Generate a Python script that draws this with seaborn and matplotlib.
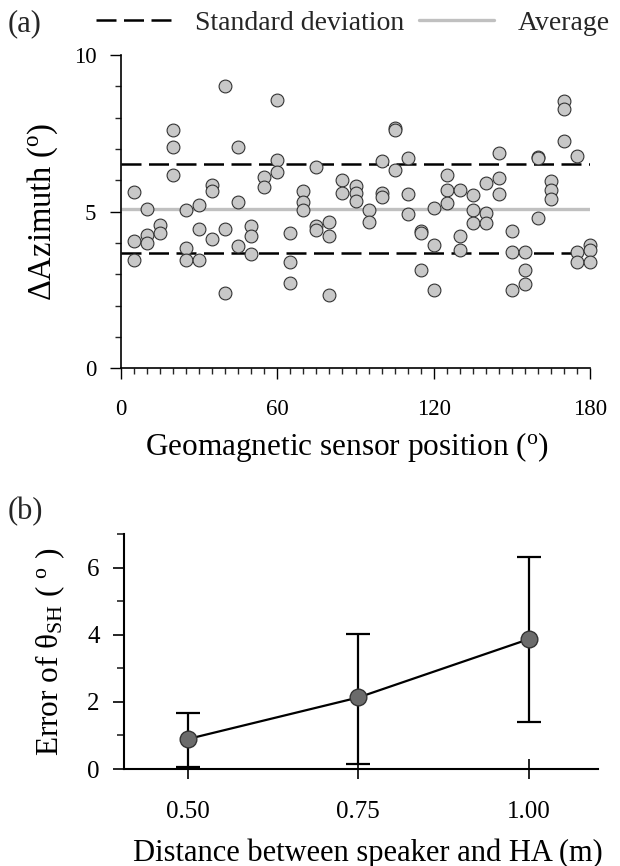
import numpy as np
import pandas as pd
import matplotlib
matplotlib.use("Agg")
import matplotlib.pyplot as plt
import seaborn as sns
from matplotlib.lines import Line2D
from matplotlib.ticker import MultipleLocator

sns.set_theme(style="ticks")
plt.rcParams['font.family'] = ['Liberation Serif', 'DejaVu Serif']
plt.rcParams['mathtext.fontset'] = 'custom'
plt.rcParams['mathtext.rm'] = 'Liberation Serif'
plt.rcParams['mathtext.it'] = 'Liberation Serif:italic'

# ---------- Panel (a) data ----------
sensor_pos = [5, 5, 5, 10, 10, 10, 15, 15, 20, 20, 20, 25, 25, 25, 30, 30, 30,
              35, 35, 35, 40, 40, 40, 45, 45, 45, 50, 50, 50, 55, 55, 60, 60, 60,
              65, 65, 65, 70, 70, 70, 75, 75, 75, 80, 80, 80, 85, 85, 90, 90, 90,
              95, 95, 100, 100, 100, 105, 105, 105, 110, 110, 110, 115, 115, 115,
              120, 120, 120, 125, 125, 125, 130, 130, 130, 135, 135, 135,
              140, 140, 140, 145, 145, 145, 150, 150, 150, 155, 155, 155,
              160, 160, 160, 165, 165, 165, 170, 170, 170, 175, 175, 175,
              180, 180, 180]
delta_azimuth = [5.64, 4.07, 3.46, 5.09, 4.26, 3.99, 4.58, 4.31, 7.61, 7.08, 6.18,
                 5.06, 3.85, 3.46, 5.22, 4.44, 3.46, 5.86, 5.66, 4.13, 9.02, 4.44, 2.40,
                 7.05, 5.30, 3.92, 4.56, 4.24, 3.64, 6.12, 5.78, 8.55, 6.65, 6.28,
                 4.31, 3.41, 2.74, 5.67, 5.32, 5.04, 6.44, 4.56, 4.42, 4.68, 4.23, 2.34,
                 6.02, 5.59, 5.82, 5.61, 5.35, 5.06, 4.68, 6.62, 5.61, 5.48,
                 7.67, 7.61, 6.34, 6.73, 5.57, 4.93, 4.37, 4.31, 3.14,
                 5.13, 3.94, 2.50, 6.18, 5.70, 5.27, 5.70, 4.24, 3.78, 5.54, 5.06, 4.63,
                 5.93, 4.95, 4.63, 6.87, 6.09, 5.56, 4.37, 3.71, 2.50, 3.71, 3.14, 2.71,
                 6.76, 6.71, 4.79, 5.99, 5.70, 5.40, 8.54, 8.27, 7.26, 6.78, 3.71, 3.39,
                 3.94, 3.78, 3.39]
avg_value = 5.09
std_upper = 6.52
std_lower = 3.67

# ---------- Panel (b) data ----------
distance = [0.50, 0.75, 1.00]
distance_labels = ["0.50", "0.75", "1.00"]
error_mean = [0.89, 2.13, 3.87]
error_upper = [1.68, 4.02, 6.30]
error_lower = [0.05, 0.15, 1.39]

df_a = pd.DataFrame({"pos": sensor_pos, "daz": delta_azimuth})
df_b = pd.DataFrame({"dist": distance, "err": error_mean})

fig = plt.figure(figsize=(6.2, 8.66), dpi=100)
ax1 = fig.add_axes([0.1944, 0.5745, 0.758, 0.362])
ax2 = fig.add_axes([0.200, 0.112, 0.7645, 0.2714])

# ---- (a) ----
ax1.hlines([std_upper, std_lower], 0, 180, colors='black', linestyles=(0, (8, 3)),
           linewidth=1.8, zorder=1)
ax1.hlines(avg_value, 0, 180, colors='#c0c0c0', linewidth=2.4, zorder=1)
sns.scatterplot(data=df_a, x="pos", y="daz", ax=ax1, s=85, color='#c8c8c8',
                edgecolor='#333333', linewidth=0.8, zorder=3, clip_on=False)
ax1.set_xlim(0, 180)
ax1.set_ylim(0, 10)
ax1.set_xticks([0, 60, 120, 180])
ax1.set_yticks([0, 5, 10])
ax1.xaxis.set_minor_locator(MultipleLocator(5))
ax1.yaxis.set_minor_locator(MultipleLocator(1))
ax1.tick_params(which='major', direction='out', length=8, width=1, labelsize=16.5, colors='black')
ax1.tick_params(which='minor', direction='out', length=4.5, width=1)
ax1.tick_params(axis='x', which='major', pad=14)
ax1.tick_params(axis='y', which='major', pad=9.5)
ax1.set_xlabel("Geomagnetic sensor position ($^\\mathrm{o}$)", fontsize=22.5, color='black',
               va='top')
ax1.xaxis.set_label_coords(0.483, -0.196)
ax1.set_ylabel("ΔAzimuth ($^\\mathrm{o}$)", fontsize=23.5, color='black')
ax1.yaxis.set_label_coords(-0.129, 0.5)
for s in ['top', 'right']:
    ax1.spines[s].set_visible(False)
for s in ['left', 'bottom']:
    ax1.spines[s].set_color('black')
    ax1.spines[s].set_linewidth(1.2)

handles = [Line2D([], [], color='black', linestyle=(0, (8, 3)), linewidth=1.8),
           Line2D([], [], color='#c0c0c0', linewidth=2.4)]
fig.legend(handles, ["Standard deviation", "Average"], ncol=2, frameon=False,
           loc='center left', bbox_to_anchor=(96 / 620, 0.973), fontsize=20,
           handlelength=2.73, columnspacing=0.5, handletextpad=0.85,
           borderpad=0, borderaxespad=0)
fig.text(8 / 620, 0.973, "(a)", fontsize=22, va='center', ha='left')

# ---- (b) ----
yerr = np.array([np.array(error_mean) - np.array(error_lower),
                 np.array(error_upper) - np.array(error_mean)])
ax2.errorbar(distance, error_mean, yerr=yerr, fmt='none', ecolor='black',
             elinewidth=1.6, capsize=8.3, capthick=1.6, zorder=2)
sns.lineplot(data=df_b, x="dist", y="err", ax=ax2, color='black', linewidth=1.6,
             marker='o', markersize=12, markerfacecolor='#6b6b6b',
             markeredgecolor='#333333', markeredgewidth=1.0, zorder=3)
ax2.set_xlim(0.407, 1.101)
ax2.set_ylim(0, 7)
ax2.set_xticks(distance)
ax2.set_xticklabels(distance_labels)
ax2.set_yticks([0, 2, 4, 6])
ax2.yaxis.set_minor_locator(MultipleLocator(1))
ax2.tick_params(axis='y', which='major', direction='out', length=8, width=1.2,
                labelsize=18, colors='black', pad=9.4)
ax2.tick_params(axis='y', which='minor', direction='out', length=5, width=1.2)
ax2.tick_params(axis='x', which='major', direction='inout', length=14, width=1.2,
                labelsize=18, colors='black', pad=16)
ax2.set_xlabel("Distance between speaker and HA (m)", fontsize=22, color='black', va='top')
ax2.xaxis.set_label_coords(0.515, -0.294)
ax2.set_ylabel("Error of θ$_\\mathrm{SH}$ ( $^\\mathrm{o}$ )", fontsize=22.5, color='black')
ax2.yaxis.set_label_coords(-0.120, 0.5)
for s in ['top', 'right']:
    ax2.spines[s].set_visible(False)
for s in ['left', 'bottom']:
    ax2.spines[s].set_color('black')
    ax2.spines[s].set_linewidth(1.5)
fig.text(8 / 620, 1 - 512 / 866, "(b)", fontsize=22, va='center', ha='left')

fig.savefig("out.png", dpi=100)
